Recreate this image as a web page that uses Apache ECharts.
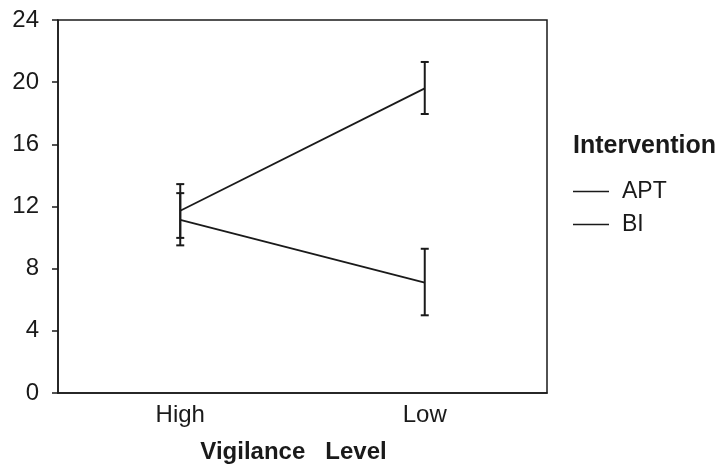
<!DOCTYPE html>
<html><head><meta charset="utf-8">
<script src="https://cdn.jsdelivr.net/npm/echarts@6/dist/echarts.min.js"></script>
<style>html,body{margin:0;padding:0;background:#fff}#c{width:728px;height:469px}</style>
</head><body><div id="c"></div>
<script>
const categories = ['High', 'Low'];
const aptMean = [11.73, 19.6];
const aptLower = [9.98, 17.95];
const aptUpper = [13.44, 21.3];
const biMean = [11.14, 7.1];
const biLower = [9.5, 5.0];
const biUpper = [12.86, 9.28];
const yTicks = { min: 0, max: 24, interval: 4 };

const FONT = 'Liberation Sans, Arial, sans-serif';
const INK = '#1a1a1a';

function errSeries(name, lower, upper) {
  return {
    type: 'custom', name: name + ' err', silent: true, z: 3,
    data: categories.map((c, i) => [i, lower[i], upper[i]]),
    renderItem: function (params, api) {
      const x = api.value(0);
      const lo = api.coord([x, api.value(1)]);
      const hi = api.coord([x, api.value(2)]);
      const w = 4;
      const st = { stroke: INK, lineWidth: 2 };
      return { type: 'group', children: [
        { type: 'line', shape: { x1: lo[0], y1: lo[1], x2: hi[0], y2: hi[1] }, style: st },
        { type: 'line', shape: { x1: lo[0] - w, y1: lo[1], x2: lo[0] + w, y2: lo[1] }, style: st },
        { type: 'line', shape: { x1: hi[0] - w, y1: hi[1], x2: hi[0] + w, y2: hi[1] }, style: st }
      ]};
    }
  };
}

const chart = echarts.init(document.getElementById('c'));
chart.setOption({
  animation: false,
  backgroundColor: '#fff',
  title: {
    text: 'Intervention', left: 568, top: 129,
    textStyle: { fontFamily: FONT, fontSize: 25, fontWeight: 'bold', color: INK }
  },
  legend: {
    orient: 'vertical', left: 568, top: 175, itemGap: 10,
    itemWidth: 36, itemHeight: 1.6, icon: 'rect',
    data: [{ name: 'APT' }, { name: 'BI' }],
    textStyle: { fontFamily: FONT, fontSize: 23, color: INK, padding: [0, 0, 0, 8] }
  },
  grid: { left: 58, right: 181, top: 20, bottom: 74, show: true, borderColor: INK, borderWidth: 1.5 },
  xAxis: {
    type: 'category', data: categories, boundaryGap: true,
    axisLine: { lineStyle: { color: INK, width: 1.5 } },
    axisTick: { alignWithLabel: true, length: 6, lineStyle: { color: INK, width: 1.5 } },
    axisLabel: { fontFamily: FONT, fontSize: 24, color: INK, margin: 10 },
    name: 'Vigilance   Level', nameLocation: 'middle', nameGap: 47,
    nameTextStyle: { fontFamily: FONT, fontSize: 24, fontWeight: 'bold', color: INK, padding: [0, 18, 0, 0] }
  },
  yAxis: {
    type: 'value', min: yTicks.min, max: yTicks.max, interval: yTicks.interval,
    splitLine: { show: false },
    axisLine: { show: true, lineStyle: { color: INK, width: 1.5 } },
    axisTick: { show: true, length: 6, lineStyle: { color: INK, width: 1.5 } },
    axisLabel: { fontFamily: FONT, fontSize: 24, color: INK, margin: 19 }
  },
  series: [
    { name: 'APT', type: 'line', data: aptMean, symbol: 'none', color: INK, lineStyle: { color: INK, width: 1.8 }, z: 2 },
    { name: 'BI', type: 'line', data: biMean, symbol: 'none', color: INK, lineStyle: { color: INK, width: 1.8 }, z: 2 },
    errSeries('APT', aptLower, aptUpper),
    errSeries('BI', biLower, biUpper)
  ]
});
</script></body></html>
